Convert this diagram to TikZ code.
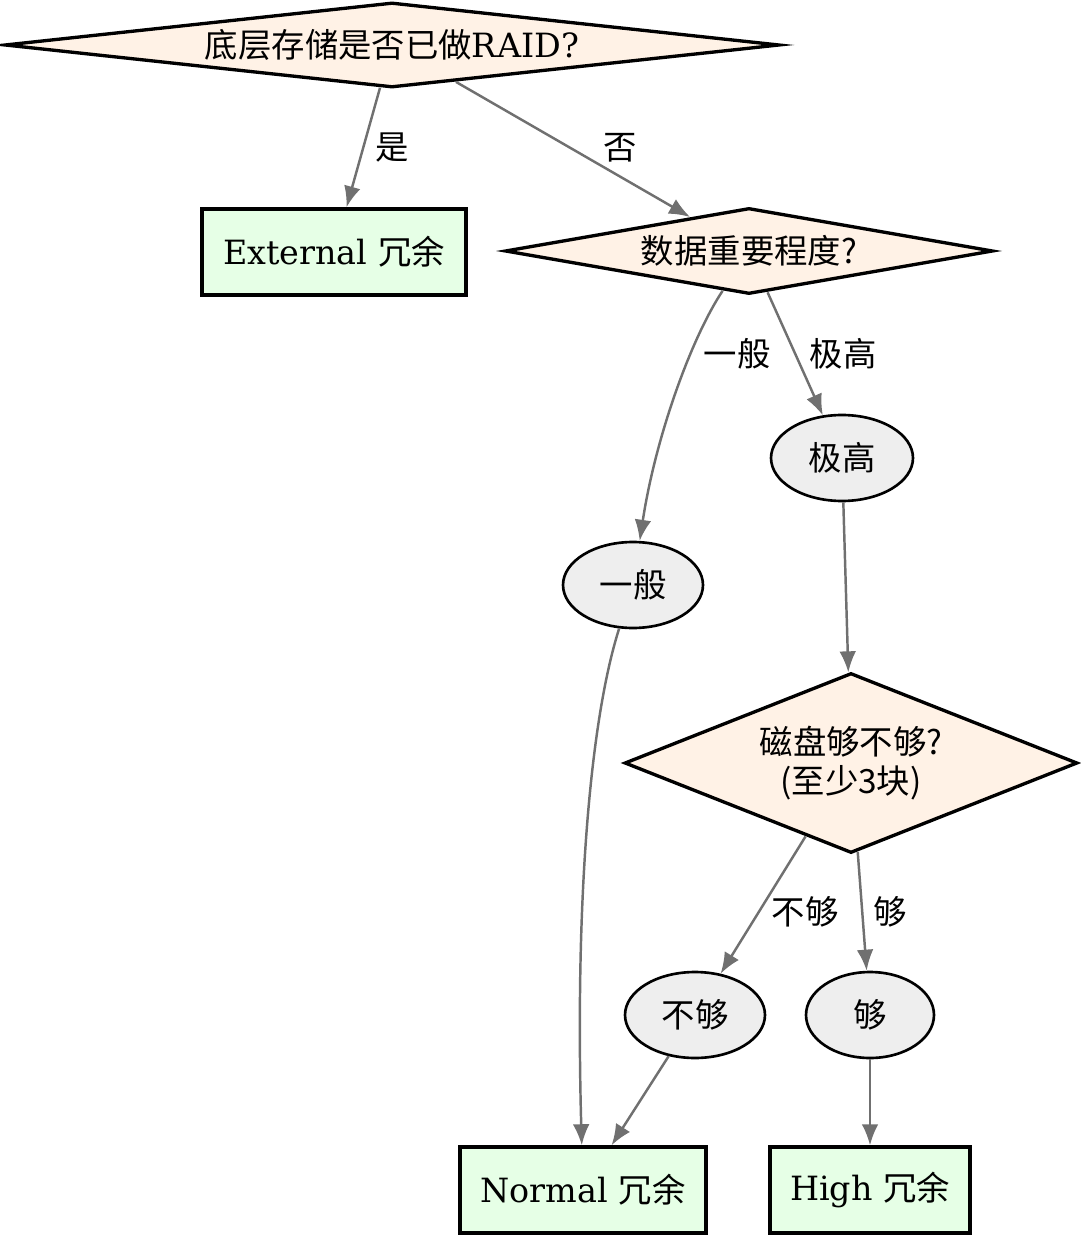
\documentclass[tikz,border=0pt]{standalone}
\usepackage{fontspec}
\setmainfont{DejaVu Serif}
\newfontfamily\cjk{Noto Sans CJK SC}
\usetikzlibrary{shapes.geometric, arrows.meta, positioning, calc}
\definecolor{askfill}{HTML}{FFF2E6}
\definecolor{endfill}{HTML}{E6FFE6}
\definecolor{midfill}{HTML}{EEEEEE}
\definecolor{edgegray}{HTML}{707070}

\begin{document}
\begin{tikzpicture}[x=0.02cm, y=-0.02cm,
  font=\fontsize{19}{22}\selectfont,
  ask/.style={diamond, draw, line width=1.9pt, fill=askfill, inner sep=0pt},
  result/.style={rectangle, draw, line width=1.9pt, fill=endfill, minimum height=1.72cm},
  choice/.style={ellipse, draw, line width=1.5pt, fill=midfill, minimum height=1.72cm},
  flow/.style={draw=edgegray, line width=1.4pt, -{Latex[length=12pt,width=9.5pt]}},
  lbl/.style={font=\cjk\fontsize{19}{22}\selectfont}]
\useasboundingbox (0,0) rectangle (1080,1239);

% questions
\node[ask, aspect=9.1, minimum width=15.5cm, minimum height=1.7cm] (raid) at (392,45) {{\cjk 底层存储是否已做}RAID?};
\node[ask, aspect=5.6, minimum width=9.76cm, minimum height=1.72cm] (level) at (749,251) {\cjk 数据重要程度?};
\node[ask, aspect=2.5, minimum width=9.06cm, minimum height=3.6cm, align=center] (disks) at (851,763) {\cjk 磁盘够不够?\\\cjk (至少3块)};

% answers
\node[choice, minimum width=2.84cm] (veryhigh) at (842,458) {\cjk 极高};
\node[choice, minimum width=2.8cm] (normalimp) at (633,585) {\cjk 一般};
\node[choice, minimum width=2.8cm] (notenough) at (695,1015) {\cjk 不够};
\node[choice, minimum width=2.56cm] (enough) at (870,1015) {\cjk 够};

% redundancy levels
\node[result, minimum width=5.28cm] (external) at (334,252) {External {\cjk 冗余}};
\node[result, minimum width=4.92cm] (normal) at (583,1190) {Normal {\cjk 冗余}};
\node[result, minimum width=4.0cm] (high) at (870,1190) {High {\cjk 冗余}};

% edges
\draw[flow] (raid) -- (external);
\draw[flow] (raid) -- (level);
\draw[flow] (level) .. controls (690,340) and (655,440) .. (normalimp);
\draw[flow] (level) -- (veryhigh);
\draw[flow] (veryhigh) -- (disks);
\draw[flow] (normalimp) .. controls (590,720) and (575,900) .. (normal);
\draw[flow] (disks) -- (notenough);
\draw[flow] (disks) -- (enough);
\draw[flow] (notenough) -- (normal);
\draw[flow] (enough) -- (high);

% edge labels
\node[lbl] (yes) at (392,148) {是};
\node[lbl] (no) at (620,148) {否};
\node[lbl] (lnormal) at (737,354) {一般};
\node[lbl] (lhigh) at (843,354) {极高};
\node[lbl] (lnot) at (805,912) {不够};
\node[lbl] (lenough) at (890,912) {够};
\end{tikzpicture}
\end{document}
